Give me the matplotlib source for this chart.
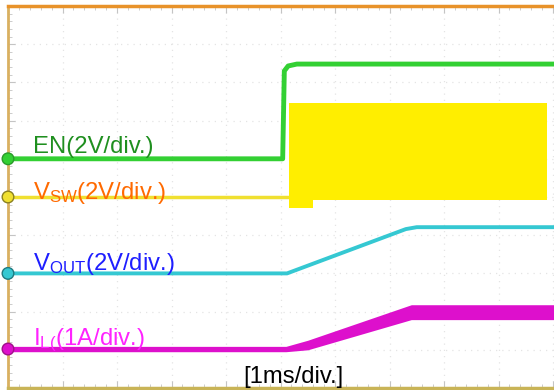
import matplotlib
matplotlib.use("Agg")
import matplotlib.pyplot as plt
import numpy as np

plt.rcParams['font.family'] = ['Liberation Sans', 'DejaVu Sans']
plt.rcParams['mathtext.fontset'] = 'custom'
plt.rcParams['mathtext.rm'] = 'Liberation Sans'
plt.rcParams['mathtext.it'] = 'Liberation Sans'

# ---- data (time in ms / divisions, amplitude in divisions) ----
en_t = [0.0, 5.04, 5.07, 5.14, 5.3, 10.02]
en_v = [6.0, 6.0, 8.3, 8.43, 8.48, 8.48]

vsw_base_t = [0.0, 5.16]
vsw_base_v = [5.0, 5.0]
vsw_band_t = [5.16, 5.6, 5.6, 9.89]
vsw_band_top = [7.46, 7.46, 7.46, 7.46]
vsw_band_bot = [4.71, 4.71, 4.92, 4.92]

vout_t = [0.0, 5.12, 7.3, 7.5, 10.02]
vout_v = [3.0, 3.0, 4.16, 4.21, 4.21]

il_t = [0.0, 5.1, 5.5, 7.4, 10.02]
il_hi = [1.09, 1.09, 1.25, 2.18, 2.18]
il_lo = [0.95, 0.95, 1.0, 1.79, 1.79]

labels = ['EN(2V/div.)', r'V$_{\mathrm{SW}}$(2V/div.)', r'V$_{\mathrm{OUT}}$(2V/div.)',
          r'I$_{\mathrm{L(}}$(1A/div.)']
label_y = [6.14, 4.95, 3.09, 1.13]
label_colors = ['#1f8f1f', '#ff6a00', '#1e1eff', '#ff22ff']
time_label = '[1ms/div.]'

W, H = 554, 390
fig = plt.figure(figsize=(W / 100, H / 100), dpi=100)
fig.patch.set_facecolor('white')
ax = fig.add_axes([8 / W, 2 / H, 546 / W, 382 / H])
ax.set_xlim(0, 546 / 54.5)
ax.set_ylim(0, 10)

# grid
ax.set_xticks(np.arange(0, 11, 1))
ax.set_yticks(np.arange(0, 11, 1))
ax.set_xticks(np.arange(0, 10.01, 0.2), minor=True)
ax.set_yticks(np.arange(0, 10.01, 0.2), minor=True)
ax.grid(True, which='major', color='#e4e4e4', linestyle=(0, (1, 4)), linewidth=0.9)
ax.tick_params(which='both', direction='in', top=True, bottom=True, left=True, right=False,
               labelbottom=False, labelleft=False, color='#c4c4c4')
ax.tick_params(which='major', length=5, width=0.8)
ax.tick_params(which='minor', length=3, width=0.6)

ax.spines['right'].set_visible(False)
ax.spines['top'].set_color('#e8922a')
ax.spines['top'].set_linewidth(2.5)
ax.spines['left'].set_color('#d9b060')
ax.spines['left'].set_linewidth(2)
ax.spines['bottom'].set_color('#c9b457')
ax.spines['bottom'].set_linewidth(2.5)

# traces
ax.plot(vsw_base_t, vsw_base_v, color='#f0e030', lw=2.5, zorder=3)
ax.fill_between(vsw_band_t, vsw_band_bot, vsw_band_top, color='#ffee00', lw=0, zorder=3)
ax.plot(en_t, en_v, color='#33d033', lw=3.5, zorder=4)
ax.plot(vout_t, vout_v, color='#35c8d2', lw=2.8, zorder=4)
ax.fill_between(il_t, il_lo, il_hi, color='#dd10cc', lw=0, zorder=4)

# channel markers
ax.scatter([0, 0, 0, 0], [en_v[0], vsw_base_v[0], vout_v[0], (il_lo[0] + il_hi[0]) / 2],
           s=70, c=['#33d033', '#f0e030', '#35c8d2', '#dd10cc'],
           edgecolors=['#2a9a2a', '#8a8020', '#207a80', '#a0108a'], linewidths=1,
           zorder=6, clip_on=False)

for txt, y, c in zip(labels, label_y, label_colors):
    ax.text(0.46, y, txt, color=c, fontsize=17.2, va='baseline', ha='left', zorder=7)
ax.text(4.31, 0.13, time_label, color='black', fontsize=17.2, va='baseline', ha='left', zorder=7)

fig.savefig('out.png', dpi=100, facecolor='white')
